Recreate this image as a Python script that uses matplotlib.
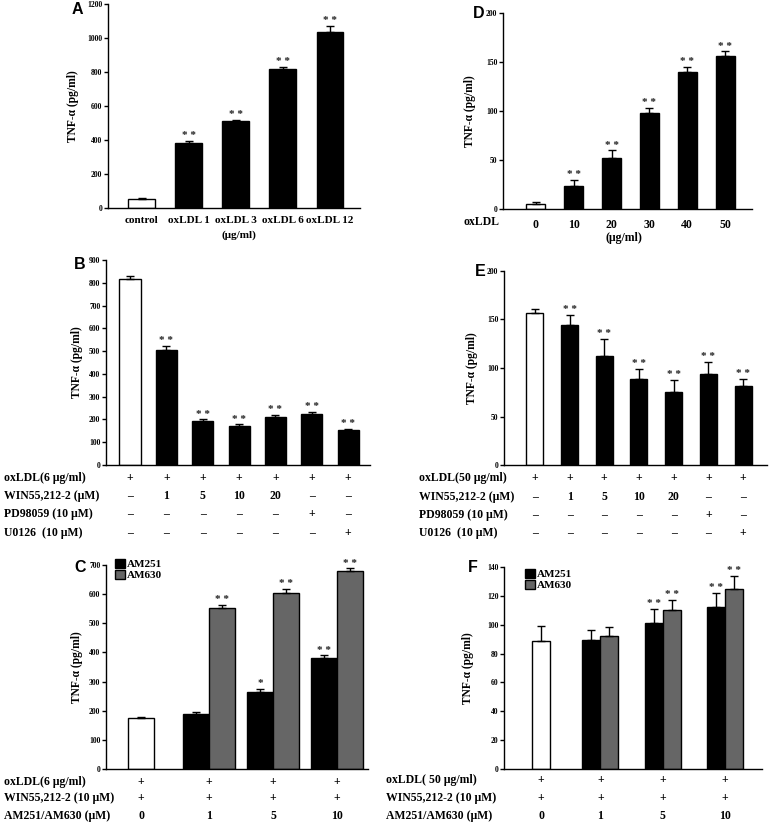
import matplotlib
matplotlib.use("Agg")
import matplotlib.pyplot as plt
import matplotlib.transforms as mtransforms
from matplotlib.patches import Patch
import numpy as np

# ---------------- data ----------------
A_labels = ["control", "oxLDL 1", "oxLDL 3", "oxLDL 6", "oxLDL 12"]
A_vals = [55, 385, 510, 815, 1035]
A_err = [5, 8, 10, 15, 38]
A_stars = ["", "**", "**", "**", "**"]

D_labels = ["0", "10", "20", "30", "40", "50"]
D_vals = [5, 23, 52, 98, 140, 156]
D_err = [2.5, 7, 8, 5, 5, 5]
D_stars = ["", "**", "**", "**", "**", "**"]

B_vals = [815, 507, 193, 172, 210, 222, 152]
B_err = [15, 15, 7, 7, 10, 10, 8]
B_stars = ["", "**", "**", "**", "**", "**", "**"]

E_vals = [157, 144, 112, 89, 75, 94, 81]
E_err = [4, 11, 18, 10, 13, 12, 8]
E_stars = ["", "**", "**", "**", "**", "**", "**"]

BE_rows_B = ["oxLDL(6 μg/ml)", "WIN55,212-2 (μM)", "PD98059 (10 μM)", "U0126  (10 μM)"]
BE_rows_E = ["oxLDL(50 μg/ml)", "WIN55,212-2 (μM)", "PD98059 (10 μM)", "U0126  (10 μM)"]
BE_table = [
    ["+", "+", "+", "+", "+", "+", "+"],
    ["–", "1", "5", "10", "20", "–", "–"],
    ["–", "–", "–", "–", "–", "+", "–"],
    ["–", "–", "–", "–", "–", "–", "+"],
]

C_ctrl = 175
C_ctrl_err = 5
C_am251 = [188, 265, 382]
C_am251_err = [8, 10, 8]
C_am630 = [553, 604, 679]
C_am630_err = [10, 14, 10]
C_am251_stars = ["", "*", "**"]
C_am630_stars = ["**", "**", "**"]

F_ctrl = 89
F_ctrl_err = 10
F_am251 = [89.5, 101, 112]
F_am251_err = [7, 10, 10]
F_am630 = [92.5, 110, 125]
F_am630_err = [6, 7, 9]
F_am251_stars = ["", "**", "**"]
F_am630_stars = ["", "**", "**"]

C_rows = ["oxLDL(6 μg/ml)", "WIN55,212-2 (10 μM)", "AM251/AM630 (μM)"]
F_rows = ["oxLDL( 50 μg/ml)", "WIN55,212-2 (10 μM)", "AM251/AM630 (μM)"]
CF_table = [["+", "+", "+", "+"], ["+", "+", "+", "+"], ["0", "1", "5", "10"]]
legend_labels = ["AM251", "AM630"]

# ---------------- style ----------------
W, H = 769, 822
SERIF = "Liberation Serif"
SANS = "Liberation Sans"
GRAY = "#666666"
plt.rcParams["font.family"] = [SERIF, "DejaVu Serif"]
plt.rcParams["font.weight"] = "bold"
plt.rcParams["axes.linewidth"] = 1.0

fig = plt.figure(figsize=(W / 100, H / 100), dpi=100)


def add_ax(x0, y0, x1, y1):
    ax = fig.add_axes([x0 / W, 1 - y1 / H, (x1 - x0) / W, (y1 - y0) / H])
    for s in ("top", "right"):
        ax.spines[s].set_visible(False)
    ax.tick_params(axis="y", length=3, width=1, pad=1, labelsize=5.5)
    ax.tick_params(axis="x", length=0)
    return ax


def style_yticks(ax):
    for t in ax.get_yticklabels():
        t.set_fontweight("bold")
        t.set_fontsize(5.5)


def ylab(ax, px, x0, x1):
    ax.set_ylabel("TNF-α (pg/ml)", fontsize=8.3, fontweight="bold")
    ax.yaxis.set_label_coords((px - x0) / (x1 - x0), 0.5)


def letter(px, py, s):
    fig.text(px / W, 1 - py / H, s, fontsize=11.5, fontweight="bold",
             family=SANS, ha="center", va="center")


def stars(ax, xs, vals, errs, marks, fs=8):
    for x, v, e, m in zip(xs, vals, errs, marks):
        if m:
            ax.annotate(" ".join(m), (x, v + e), xytext=(0, 0.5), textcoords="offset points",
                        ha="center", va="bottom", fontsize=fs, fontweight="bold",
                        color="#222222")


def bars(ax, xs, vals, errs, width, colors):
    ax.bar(xs, vals, width=width, color=colors, edgecolor="black", linewidth=1.0, zorder=2)
    ax.errorbar(xs, vals, yerr=[np.zeros(len(vals)), errs], fmt="none", ecolor="black",
                elinewidth=1.0, capsize=3, capthick=1.0, zorder=3)


def table(ax, xs, rows, cells, ys, label_px, fs=8.5):
    tr = mtransforms.blended_transform_factory(ax.transData, fig.transFigure)
    for r, (name, y) in enumerate(zip(rows, ys)):
        fig.text(label_px / W, 1 - y / H, name, fontsize=fs, fontweight="bold",
                 ha="left", va="center")
        for x, c in zip(xs, cells[r]):
            ax.text(x, 1 - y / H, c, transform=tr, fontsize=fs, fontweight="bold",
                    ha="center", va="center")


def legend(ax, anchor):
    hs = [Patch(facecolor="black", edgecolor="black"), Patch(facecolor=GRAY, edgecolor="black")]
    leg = ax.legend(hs, legend_labels, loc="upper left", bbox_to_anchor=anchor,
                    frameon=False, fontsize=8, handlelength=0.9, handleheight=0.9,
                    handletextpad=0.15, labelspacing=0.05, borderaxespad=0, borderpad=0)
    for t in leg.get_texts():
        t.set_fontweight("bold")


# ---------------- Panel A ----------------
ax = add_ax(108, 4, 360, 208)
xa = np.arange(len(A_vals))
bars(ax, xa, A_vals, A_err, 0.57, ["white"] + ["black"] * 4)
stars(ax, xa, A_vals, A_err, A_stars)
ax.set_ylim(0, 1200)
ax.set_yticks(range(0, 1201, 200))
ax.set_xlim(-0.72, 4.64)
ax.set_xticks(xa)
ax.set_xticklabels(A_labels, fontsize=8, fontweight="bold")
ax.tick_params(axis="x", pad=6)
style_yticks(ax)
ylab(ax, 79, 108, 360)
fig.text(239 / W, 1 - 235 / H, "(μg/ml)", fontsize=8, fontweight="bold", ha="center", va="center")
letter(77, 9, "A")

# ---------------- Panel D ----------------
ax = add_ax(503, 13, 752, 209)
xd = np.arange(len(D_vals))
bars(ax, xd, D_vals, D_err, 0.5, ["white"] + ["black"] * 5)
stars(ax, xd, D_vals, D_err, D_stars)
ax.set_ylim(0, 200)
ax.set_yticks(range(0, 201, 50))
ax.set_xlim(-0.87, 5.71)
ax.set_xticks(xd)
ax.set_xticklabels(D_labels, fontsize=8.5, fontweight="bold")
ax.tick_params(axis="x", pad=7)
style_yticks(ax)
ylab(ax, 476, 503, 752)
fig.text(499 / W, 1 - 222 / H, "oxLDL", fontsize=8.5, fontweight="bold", ha="right", va="center")
fig.text(624 / W, 1 - 238 / H, "(μg/ml)", fontsize=8.5, fontweight="bold", ha="center", va="center")
letter(479, 13, "D")

# ---------------- Panel B ----------------
ax = add_ax(106, 260, 370, 465)
xb = np.arange(len(B_vals))
bars(ax, xb, B_vals, B_err, 0.58, ["white"] + ["black"] * 6)
stars(ax, xb, B_vals, B_err, B_stars)
ax.set_ylim(0, 900)
ax.set_yticks(range(0, 901, 100))
ax.set_xlim(-0.66, 6.6)
ax.set_xticks([])
style_yticks(ax)
ylab(ax, 83, 106, 370)
table(ax, xb, BE_rows_B, BE_table, [478, 496, 514, 533], 4)
letter(80, 264, "B")

# ---------------- Panel E ----------------
ax = add_ax(504, 271, 767, 465)
xe = np.arange(len(E_vals))
bars(ax, xe, E_vals, E_err, 0.49, ["white"] + ["black"] * 6)
stars(ax, xe, E_vals, E_err, E_stars)
ax.set_ylim(0, 200)
ax.set_yticks(range(0, 201, 50))
ax.set_xlim(-0.89, 6.69)
ax.set_xticks([])
style_yticks(ax)
ylab(ax, 478, 504, 767)
table(ax, xe, BE_rows_E, BE_table, [478, 497, 515, 533], 419)
letter(480, 271, "E")

# ---------------- Panel C ----------------
ax = add_ax(106, 565, 368, 769)
wc = 0.41
gc = np.array([1.07, 2.07, 3.07])
bars(ax, [0], [C_ctrl], [C_ctrl_err], wc, ["white"])
bars(ax, gc - wc / 2, C_am251, C_am251_err, wc, ["black"] * 3)
bars(ax, gc + wc / 2, C_am630, C_am630_err, wc, [GRAY] * 3)
stars(ax, gc - wc / 2, C_am251, C_am251_err, C_am251_stars)
stars(ax, gc + wc / 2, C_am630, C_am630_err, C_am630_stars)
ax.set_ylim(0, 700)
ax.set_yticks(range(0, 701, 100))
ax.set_xlim(-0.55, 3.56)
ax.set_xticks([])
style_yticks(ax)
ylab(ax, 83, 106, 368)
legend(ax, (0.035, 1.03))
table(ax, np.concatenate([[0], gc]), C_rows, CF_table, [782, 798, 816], 4)
letter(80, 567, "C")

# ---------------- Panel F ----------------
ax = add_ax(504, 567, 762, 769)
wf = 0.29
gf = np.array([0.95, 1.95, 2.95])
bars(ax, [0], [F_ctrl], [F_ctrl_err], wf, ["white"])
bars(ax, gf - wf / 2, F_am251, F_am251_err, wf, ["black"] * 3)
bars(ax, gf + wf / 2, F_am630, F_am630_err, wf, [GRAY] * 3)
stars(ax, gf - wf / 2, F_am251, F_am251_err, F_am251_stars)
stars(ax, gf + wf / 2, F_am630, F_am630_err, F_am630_stars)
ax.set_ylim(0, 140)
ax.set_yticks(range(0, 141, 20))
ax.set_xlim(-0.6, 3.55)
ax.set_xticks([])
style_yticks(ax)
ylab(ax, 474, 504, 762)
legend(ax, (0.082, 0.99))
table(ax, np.concatenate([[0], gf]), F_rows, CF_table, [780, 798, 816], 386)
letter(473, 567, "F")

fig.savefig("out.png", dpi=100)
